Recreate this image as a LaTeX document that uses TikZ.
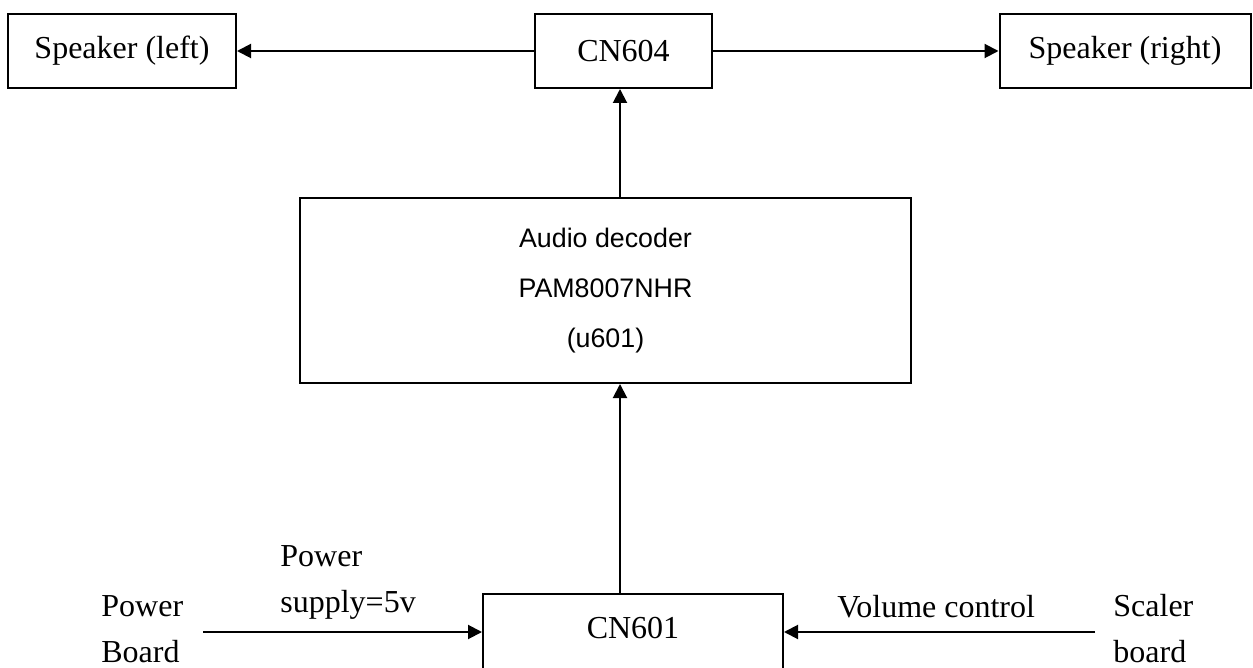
\documentclass[tikz,border=0pt]{standalone}
\usepackage{fontspec}
\setmainfont{Liberation Serif}
\newfontfamily\arialfont{Liberation Sans}
\usepackage{tikz}
\usetikzlibrary{arrows.meta,positioning}
\tikzset{
  blockbox/.style={draw, line width=1pt, inner sep=0pt,
    font=\fontsize{16}{23}\selectfont},
  sigline/.style={line width=1pt, -{Triangle[length=7pt,width=7pt]}},
  sidetext/.style={inner sep=0pt, align=left,
    font=\fontsize{16}{23}\selectfont}
}

\begin{document}
\begin{tikzpicture}[x=0.5pt,y=-0.5pt]
\useasboundingbox (0,0) rectangle (1253,668);
% top row
\node[blockbox, minimum width=88.5pt, minimum height=37pt] (cn604) at (623.5,51) {CN604};
\node[blockbox, minimum width=114pt, minimum height=37pt] (spkleft) at (122,51) {Speaker (left)};
\node[blockbox, minimum width=125.5pt, minimum height=37pt] (spkright) at (1125,51) {Speaker (right)};
% decoder
\node[blockbox, minimum width=305.5pt, minimum height=92.5pt,
  font=\arialfont\fontsize{13.4}{25}\selectfont, align=center] (decoder) at (605.5,290.5)
  {Audio decoder\\PAM8007NHR\\(u601)};
% connector at the bottom (cut by the page edge)
\node[blockbox, minimum width=150pt, minimum height=55pt, anchor=north] (cn601) at (633,593) {};
\node[inner sep=0pt, font=\fontsize{16}{23}\selectfont, anchor=base] (cn601lbl) at (633,638) {CN601};
\coordinate (trunk) at (620,0);
\coordinate (pwrstart) at (203,632);
\coordinate (volstart) at (1095,632);
% arrows
\draw[sigline] (cn604.west) -- (spkleft.east);
\draw[sigline] (cn604.east) -- (spkright.west);
\draw[sigline] (trunk |- decoder.north) -- (trunk |- cn604.south);
\draw[sigline] (trunk |- cn601.north) -- (trunk |- decoder.south);
\draw[sigline] (pwrstart) -- (pwrstart -| cn601.west);
\draw[sigline] (volstart) -- (volstart -| cn601.east);
% side labels
\node[sidetext, anchor=base west] (pwrboard) at (101,662) {Power\\Board};
\node[sidetext, anchor=base west] (pwrsupply) at (280,612) {Power\\supply=5v};
\node[sidetext, anchor=base west] (volctl) at (837,617) {Volume control};
\node[sidetext, anchor=base west] (scaler) at (1113,662) {Scaler\\board};
\end{tikzpicture}
\end{document}
